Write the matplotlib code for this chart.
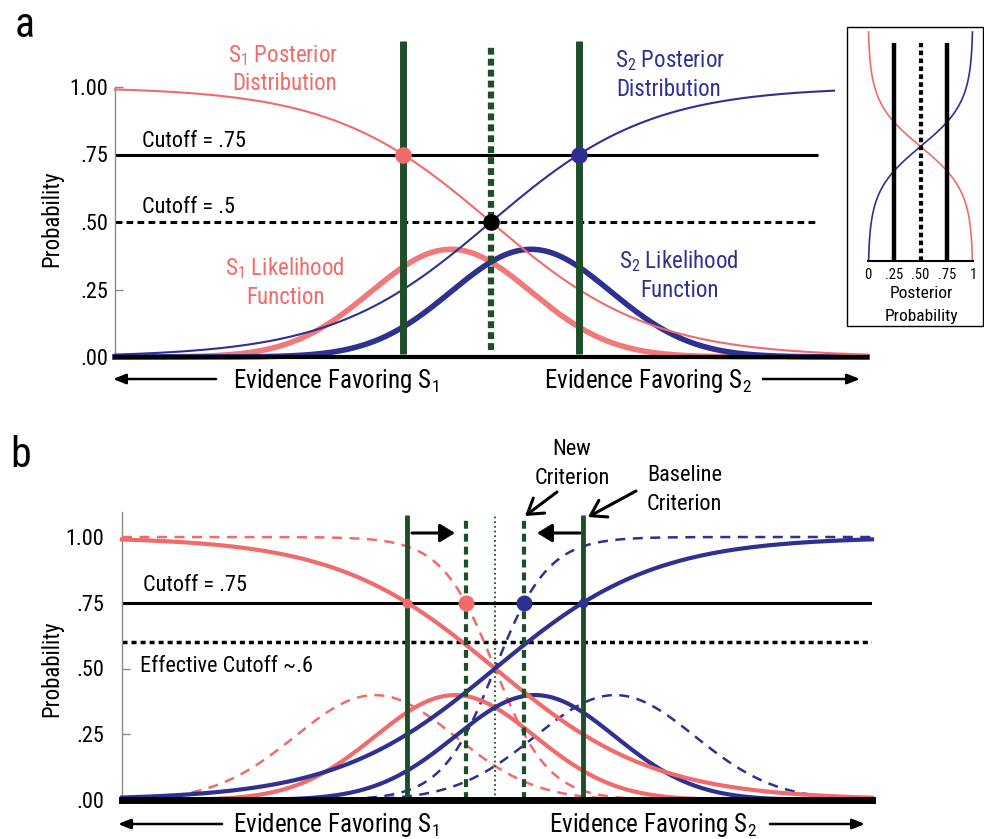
import numpy as np
import matplotlib
matplotlib.use("Agg")
import matplotlib.pyplot as plt
from matplotlib import font_manager as fm
from matplotlib.patches import Rectangle

# ---------------- data ----------------
x_span_a = (-4.7, 4.7)            # evidence axis, panel a
x_span_b = (-4.6625, 4.7125)      # evidence axis, panel b
sigma = 1.0
mu_s1_base, mu_s2_base = -0.5, 0.5     # baseline likelihood means (d' = 1)
mu_s1_new, mu_s2_new = -1.5, 1.5       # sharpened likelihood means (d' = 3)
cutoff_high = 0.75
cutoff_mid = 0.5
cutoff_effective = 0.6
s2_post_end_a = 4.29                    # S2 posterior curve stops here in panel a
cutoff_line_end_a = 4.09                # cutoff lines stop here in panel a
inset_evidence = (-5.2, 5.2)
inset_ticks = [0, 0.25, 0.5, 0.75, 1]
inset_ticklabels = ["0", ".25", ".50", ".75", "1"]
inset_lines = [0.25, 0.5, 0.75]
y_ticks = [0, 0.25, 0.5, 0.75, 1.0]
y_ticklabels = [".00", ".25", ".50", ".75", "1.00"]

# ---------------- fonts ----------------
avail = fm.fontManager.ttflist
names = {f.name for f in avail}
FONT = None
STRETCH = "normal"
for n in ["Liberation Sans Narrow", "Roboto Condensed", "Arial Narrow", "Open Sans Condensed"]:
    if n in names:
        FONT = n
        break
if FONT is None:
    if any(f.name == "DejaVu Sans" and str(f.stretch) in ("condensed", "semi-condensed") for f in avail):
        FONT = "DejaVu Sans"
        STRETCH = "condensed"
    elif "Liberation Sans" in names:
        FONT = "Liberation Sans"
    else:
        FONT = "DejaVu Sans"
plt.rcParams["font.family"] = [FONT, "DejaVu Sans"]
plt.rcParams["font.stretch"] = STRETCH
plt.rcParams["mathtext.fontset"] = "custom"
plt.rcParams["mathtext.rm"] = FONT
plt.rcParams["mathtext.it"] = FONT
plt.rcParams["mathtext.bf"] = FONT

RED = "#F06B6B"
BLUE = "#2E3192"
GREEN = "#1F4E2A"
GRAY = "#8A8A8A"

W, H = 984, 839
fig = plt.figure(figsize=(W / 100, H / 100), dpi=100)


def rect(l, r, t, b):
    return [l / W, 1 - b / H, (r - l) / W, (b - t) / H]


def T(px, py, s, **kw):
    return fig.text(px / W, 1 - py / H, s, **kw)


def arrow(x0, y0, x1, y1, style, lw=1.8, ms=10):
    fig.add_artist(matplotlib.patches.FancyArrowPatch(
        (x0 / W, 1 - y0 / H), (x1 / W, 1 - y1 / H), transform=fig.transFigure,
        arrowstyle=style, mutation_scale=ms, lw=lw, color="k",
        shrinkA=0, shrinkB=0))


def pdf(x, mu):
    return np.exp(-0.5 * ((x - mu) / sigma) ** 2) / (sigma * np.sqrt(2 * np.pi))


def posterior_s1(x, m1, m2):
    a, b = pdf(x, m1), pdf(x, m2)
    return a / (a + b)


def criterion(cut, m1, m2):
    # evidence value at which P(S2|x) equals cut
    return (m1 + m2) / 2 + np.log(cut / (1 - cut)) * sigma ** 2 / (m2 - m1)


def style_axis(ax, top_bound, bottom_lw, pad):
    for s in ["top", "right"]:
        ax.spines[s].set_visible(False)
    ax.spines["left"].set_color(GRAY)
    ax.spines["left"].set_linewidth(1.0)
    ax.spines["left"].set_bounds(0, top_bound)
    ax.spines["bottom"].set_color("k")
    ax.spines["bottom"].set_linewidth(bottom_lw)
    ax.spines["bottom"].set_zorder(7)
    ax.set_xticks([])
    ax.set_yticks(y_ticks)
    ax.set_yticklabels(y_ticklabels)
    ax.tick_params(axis="y", direction="in", length=6, width=1, color=GRAY,
                   labelsize=16, pad=pad)
    ax.patch.set_alpha(0)


# ======================= panel a =======================
axa = fig.add_axes(rect(115, 867, 33, 357))
axa.set_xlim(*x_span_a)
axa.set_ylim(0, 1.2)
style_axis(axa, 1.0, 3, 5)

xa = np.linspace(x_span_a[0], x_span_a[1], 800)
l1 = pdf(xa, mu_s1_base)
l2 = pdf(xa, mu_s2_base)
p1 = posterior_s1(xa, mu_s1_base, mu_s2_base)
p2 = 1 - p1
axa.plot(xa, l1, color=RED, lw=4, alpha=0.9, clip_on=False, zorder=3)
axa.plot(xa, l2, color=BLUE, lw=4, clip_on=False, zorder=3)
axa.plot(xa, p1, color=RED, lw=1.5, clip_on=False, zorder=3)
m = xa <= s2_post_end_a
axa.plot(xa[m], p2[m], color=BLUE, lw=1.5, clip_on=False, zorder=3)

axa.hlines(cutoff_high, x_span_a[0], cutoff_line_end_a, color="k", lw=2.2, zorder=2)
axa.hlines(cutoff_mid, x_span_a[0], cutoff_line_end_a, color="k", lw=2.2,
           linestyles=[(0, (2.2, 1.4))], zorder=2)

ca_lo = criterion(1 - cutoff_high, mu_s1_base, mu_s2_base)
ca_hi = criterion(cutoff_high, mu_s1_base, mu_s2_base)
ca_mid = criterion(cutoff_mid, mu_s1_base, mu_s2_base)
axa.vlines([ca_lo, ca_hi], 0.011, 1.17, color=GREEN, lw=5, zorder=4, clip_on=False)
axa.vlines(ca_mid, 0.026, 1.148, color=GREEN, lw=4.5, zorder=4,
           linestyles=[(0, (1.1, 0.65))], clip_on=False)
axa.plot([ca_lo], [cutoff_high], "o", color=RED, ms=12, zorder=6, mec="none")
axa.plot([ca_hi], [cutoff_high], "o", color=BLUE, ms=12, zorder=6, mec="none")
axa.plot([ca_mid], [cutoff_mid], "o", color="k", ms=12, zorder=6, mec="none")

T(15, 37, "a", fontsize=30, va="baseline", ha="left")
T(52, 219, "Probability", fontsize=16.5, rotation=90, ha="center", va="center")
T(283, 62, r"S$_\mathrm{1}$ Posterior", color=RED, fontsize=16.5, ha="center", va="baseline")
T(285, 90, "Distribution", color=RED, fontsize=16.5, ha="center", va="baseline")
T(670, 67, r"S$_\mathrm{2}$ Posterior", color=BLUE, fontsize=16.5, ha="center", va="baseline")
T(669, 96, "Distribution", color=BLUE, fontsize=16.5, ha="center", va="baseline")
T(285, 275, r"S$_\mathrm{1}$ Likelihood", color=RED, fontsize=16.5, ha="center", va="baseline")
T(285, 304, "Function", color=RED, fontsize=16.5, ha="center", va="baseline")
T(679, 268, r"S$_\mathrm{2}$ Likelihood", color=BLUE, fontsize=16.5, ha="center", va="baseline")
T(679, 297, "Function", color=BLUE, fontsize=16.5, ha="center", va="baseline")
T(142, 147, "Cutoff = .75", fontsize=16, ha="left", va="baseline")
T(142, 213, "Cutoff = .5", fontsize=16, ha="left", va="baseline")
T(233, 388, r"Evidence Favoring S$_\mathrm{1}$", fontsize=18, ha="left", va="baseline")
T(544, 388, r"Evidence Favoring S$_\mathrm{2}$", fontsize=18, ha="left", va="baseline")
ev_style = "-|>,head_length=0.75,head_width=0.3"
arrow(216, 379, 113, 379, ev_style)
arrow(763, 379, 860, 379, ev_style)

# ---------------- inset ----------------
fig.add_artist(Rectangle((847 / W, 1 - 326 / H), (983 - 847) / W, (326 - 27) / H,
                         transform=fig.transFigure, fill=False, ec="k", lw=1.0))
axi = fig.add_axes(rect(868, 973, 32, 261))
axi.set_xlim(0, 1)
axi.set_ylim(*inset_evidence)
ei = np.linspace(inset_evidence[0], inset_evidence[1], 600)
pi1 = posterior_s1(ei, mu_s1_base, mu_s2_base)
axi.plot(pi1, ei, color=RED, lw=1.2, clip_on=False)
axi.plot(1 - pi1, ei, color=BLUE, lw=1.2, clip_on=False)
ytop_in = inset_evidence[1] - (43 - 32) / (261 - 32) * (inset_evidence[1] - inset_evidence[0])
axi.vlines([inset_lines[0], inset_lines[2]], inset_evidence[0], ytop_in, color="k", lw=3.2)
axi.vlines(inset_lines[1], inset_evidence[0], ytop_in, color="k", lw=3,
           linestyles=[(0, (1.1, 0.8))])
for s in ["top", "right", "left"]:
    axi.spines[s].set_visible(False)
axi.spines["bottom"].set_linewidth(1.5)
axi.set_yticks([])
axi.set_xticks(inset_ticks)
axi.set_xticklabels(inset_ticklabels)
axi.tick_params(axis="x", length=0, labelsize=10.5, pad=5)
axi.patch.set_alpha(0)
T(921, 298, "Posterior", fontsize=12.5, ha="center", va="baseline")
T(921, 321, "Probability", fontsize=12.5, ha="center", va="baseline")

# ======================= panel b =======================
axb = fig.add_axes(rect(122, 872, 800 - 1.1 * 263, 800))
axb.set_xlim(*x_span_b)
axb.set_ylim(0, 1.1)
style_axis(axb, 1.095, 5, 13)

xb = np.linspace(x_span_b[0], x_span_b[1], 900)
bl1 = pdf(xb, mu_s1_base)
bl2 = pdf(xb, mu_s2_base)
bp1 = posterior_s1(xb, mu_s1_base, mu_s2_base)
nl1 = pdf(xb, mu_s1_new)
nl2 = pdf(xb, mu_s2_new)
np1 = posterior_s1(xb, mu_s1_new, mu_s2_new)
dash = [(0, (4, 3))]
axb.plot(xb, nl1, color=RED, lw=1.8, ls=dash[0], clip_on=False, zorder=3)
axb.plot(xb, nl2, color=BLUE, lw=1.8, ls=dash[0], clip_on=False, zorder=3)
axb.plot(xb, np1, color=RED, lw=1.8, ls=dash[0], clip_on=False, zorder=3)
axb.plot(xb, 1 - np1, color=BLUE, lw=1.8, ls=dash[0], clip_on=False, zorder=3)
axb.plot(xb, bl1, color=RED, lw=3, clip_on=False, zorder=3)
axb.plot(xb, bl2, color=BLUE, lw=3, clip_on=False, zorder=3)
axb.plot(xb, bp1, color=RED, lw=3, clip_on=False, zorder=3)
axb.plot(xb, 1 - bp1, color=BLUE, lw=3, clip_on=False, zorder=3)

axb.hlines(cutoff_high, x_span_b[0], x_span_b[1], color="k", lw=2.2, zorder=2)
axb.hlines(cutoff_effective, x_span_b[0], x_span_b[1], color="k", lw=2.5,
           linestyles=[(0, (1.45, 1.15))], zorder=2)

cb_lo = criterion(1 - cutoff_high, mu_s1_base, mu_s2_base)
cb_hi = criterion(cutoff_high, mu_s1_base, mu_s2_base)
cn_lo = criterion(1 - cutoff_high, mu_s1_new, mu_s2_new)
cn_hi = criterion(cutoff_high, mu_s1_new, mu_s2_new)
cb_mid = criterion(cutoff_mid, mu_s1_base, mu_s2_base)
axb.vlines([cb_lo, cb_hi], 0, 1.084, color=GREEN, lw=3.5, zorder=4, clip_on=False)
axb.vlines([cn_lo, cn_hi], 0, 1.08, color=GREEN, lw=3, zorder=4,
           linestyles=[(0, (1.9, 1.2))], clip_on=False)
axb.vlines(cb_mid, 0, 1.08, color=GREEN, lw=1.3, zorder=4,
           linestyles=[(0, (1, 1.6))], clip_on=False)
axb.plot([cb_lo], [cutoff_high], "o", color=RED, ms=7, zorder=6, mec="none")
axb.plot([cn_lo], [cutoff_high], "o", color=RED, ms=11.5, zorder=6, mec="none")
axb.plot([cn_hi], [cutoff_high], "o", color=BLUE, ms=11.5, zorder=6, mec="none")
axb.plot([cb_hi], [cutoff_high], "o", color=BLUE, ms=7, zorder=6, mec="none")

T(10, 467, "b", fontsize=30, va="baseline", ha="left")
T(52, 669, "Probability", fontsize=16.5, rotation=90, ha="center", va="center")
T(143, 591, "Cutoff = .75", fontsize=16, ha="left", va="baseline")
T(140, 672, "Effective Cutoff ~.6", fontsize=16, ha="left", va="baseline")
T(572, 455, "New", fontsize=16, ha="center", va="baseline")
T(572, 484, "Criterion", fontsize=16, ha="center", va="baseline")
T(647, 481, "Baseline", fontsize=16, ha="left", va="baseline")
T(647, 510, "Criterion", fontsize=16, ha="left", va="baseline")
T(233, 832, r"Evidence Favoring S$_\mathrm{1}$", fontsize=18, ha="left", va="baseline")
T(549, 832, r"Evidence Favoring S$_\mathrm{2}$", fontsize=18, ha="left", va="baseline")
arrow(222, 824, 118, 824, ev_style)
arrow(770, 824, 865, 824, ev_style)
shift_style = "-|>,head_length=0.9,head_width=0.55"
arrow(412, 533, 455, 533, shift_style, lw=2.2)
arrow(580, 533, 537, 533, shift_style, lw=2.2)
open_style = "->,head_length=0.7,head_width=0.45"
arrow(557, 492, 525, 516, open_style, lw=2.2, ms=15)
arrow(636, 491, 588, 517, open_style, lw=2.2, ms=15)

fig.savefig("out.png", dpi=100)
